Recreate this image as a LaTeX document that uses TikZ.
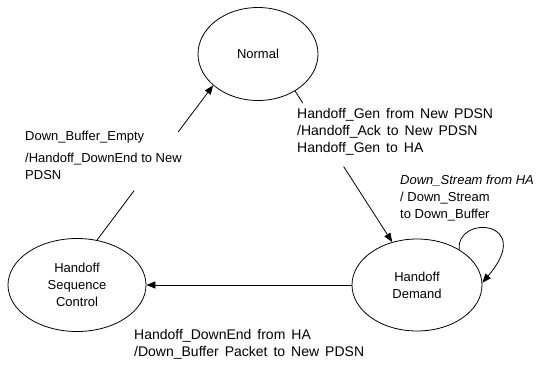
\documentclass[tikz,border=0pt]{standalone}
\usepackage{fontspec}
\setmainfont{Liberation Sans}
\usetikzlibrary{shapes.geometric,arrows.meta,calc}
\tikzset{
  state/.style={ellipse,draw,line width=0.8pt,inner sep=0pt,align=center,font=\fontsize{13}{17}\selectfont},
  lbl/.style={align=left,anchor=north west,inner sep=0pt,font=\fontsize{13}{17}\selectfont},
  widelbl/.style={lbl,font=\fontsize{14}{17}\selectfont,execute at begin node={\spaceskip=6pt plus 1pt\relax}},
  conn/.style={line width=0.8pt},
  arr/.style={conn,-{Triangle[length=9pt,width=7pt]}}
}
\begin{document}
\begin{tikzpicture}[x=1pt,y=-1pt]
\useasboundingbox (0,0) rectangle (538,365);
\node[state,minimum width=120pt,minimum height=93pt] (N) at (258,54) {Normal};
\node[state,minimum width=138pt,minimum height=93pt] (HSC) at (77,285) {Handoff\\Sequence\\Control};
\node[state,minimum width=130pt,minimum height=92pt] (HD) at (417,285) {Handoff\\Demand};
% Normal -> Handoff Demand
\coordinate (a1) at ($(N.-45)!0.08!(HD.120)$);
\coordinate (a2) at ($(N.-45)!0.5!(HD.120)$);
\draw[conn] (N.-45) -- (a1);
\draw[arr] (a2) -- (HD.120);
% Handoff Sequence Control -> Normal
\coordinate (b1) at ($(HSC.66)!0.32!(N.215)$);
\coordinate (b2) at ($(HSC.66)!0.70!(N.215)$);
\draw[conn] (HSC.66) -- (b1);
\draw[arr] (b2) -- (N.215);
% Handoff Demand -> Handoff Sequence Control
\draw[arr] (HD.west) -- (HSC.east);
% self loop
\draw[arr] (HD.40) .. controls (456,214) and (536,220) .. (HD.2);
% labels
\node[lbl] (l1) at (25,131) {Down\_Buffer\_Empty\\[5pt]/Handoff\_DownEnd to New\\PDSN};
\node[widelbl] (l2) at (297,108) {Handoff\_Gen from New PDSN\\/Handoff\_Ack to New PDSN\\Handoff\_Gen to HA};
\node[lbl] (l3) at (400,175) {\itshape Down\_Stream from HA\\/ Down\_Stream\\to Down\_Buffer};
\node[widelbl] (l4) at (134,329) {Handoff\_DownEnd from HA\\/Down\_Buffer Packet to New PDSN};
\end{tikzpicture}
\end{document}
